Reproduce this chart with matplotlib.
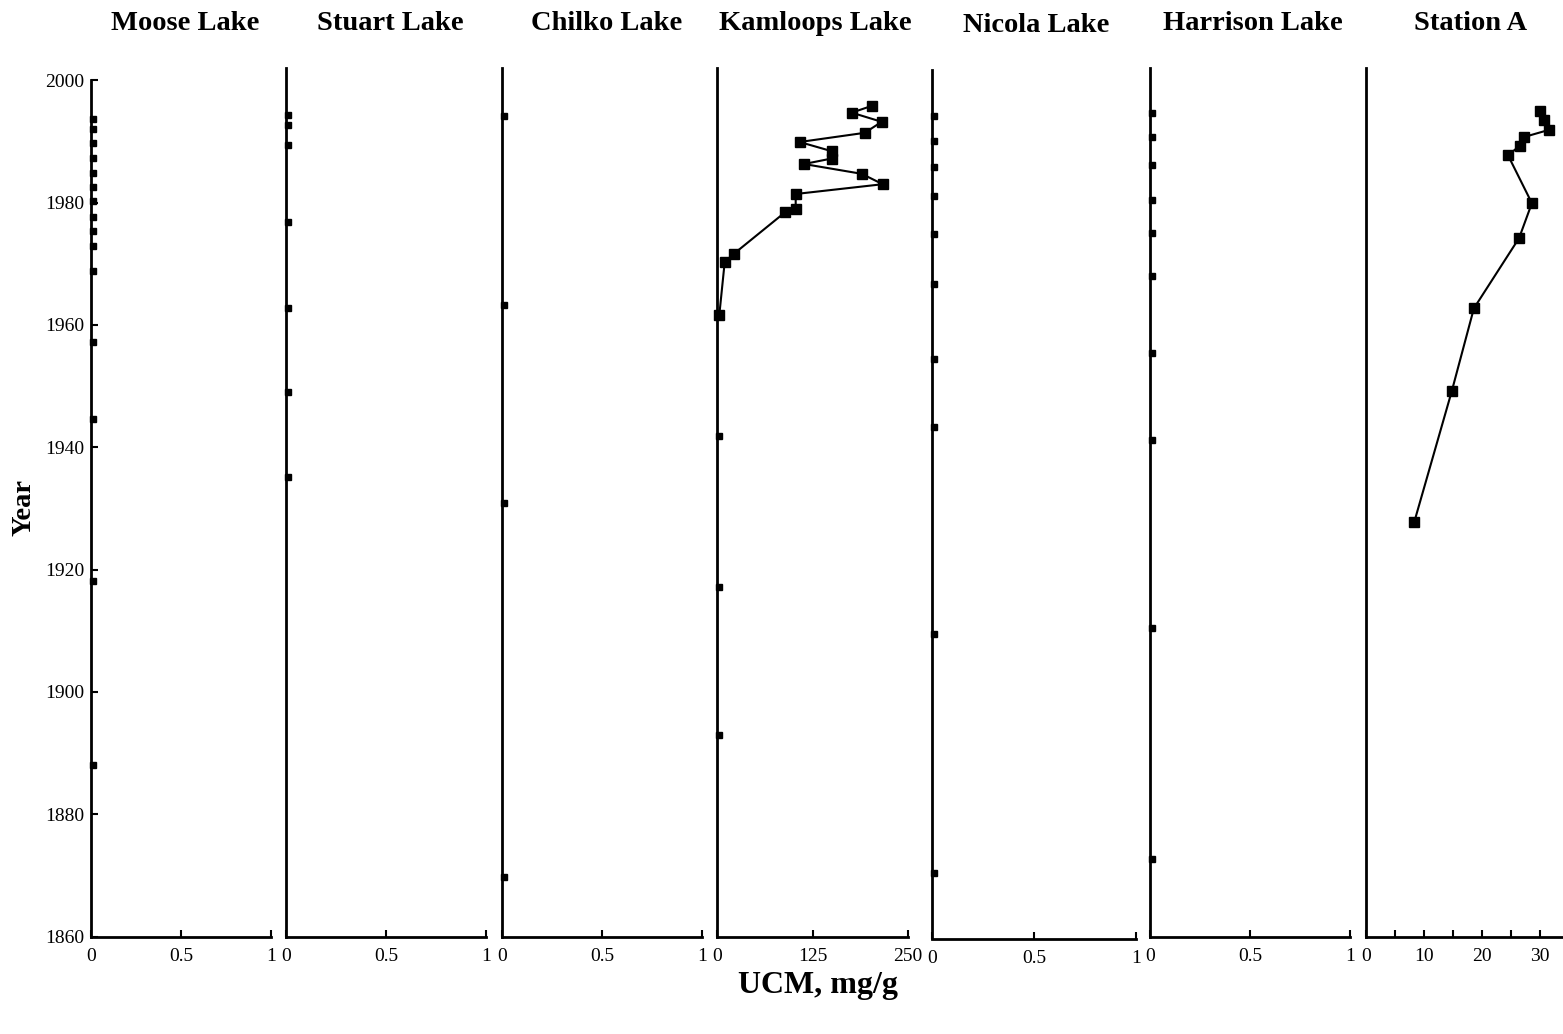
import matplotlib
matplotlib.use("Agg")
import matplotlib.pyplot as plt
from matplotlib.ticker import FixedLocator, MultipleLocator

plt.rcParams["font.family"] = ["Liberation Serif", "DejaVu Serif"]

# ---- data: UCM (mg/g) against sediment year ----
lakes = ["Moose Lake", "Stuart Lake", "Chilko Lake", "Kamloops Lake",
         "Nicola Lake", "Harrison Lake", "Station A"]

moose_year = [1993.7, 1992.0, 1989.7, 1987.3, 1984.8, 1982.5, 1980.3, 1977.6,
              1975.4, 1972.9, 1968.8, 1957.2, 1944.6, 1918.1, 1888.0]
moose_ucm = [0.01] * len(moose_year)

stuart_year = [1994.3, 1992.6, 1989.4, 1976.8, 1962.8, 1949.1, 1935.1]
stuart_ucm = [0.01] * len(stuart_year)

chilko_year = [1994.2, 1963.3, 1930.8, 1869.7]
chilko_ucm = [0.01] * len(chilko_year)

kamloops_year = [1995.8, 1994.7, 1993.2, 1991.4, 1989.9, 1988.4, 1987.2, 1986.3,
                 1984.7, 1983.0, 1981.4, 1978.9, 1978.4, 1971.6, 1970.3, 1961.6]
kamloops_ucm = [202.5, 176.3, 215.6, 193.3, 108.2, 150.1, 150.1, 113.9,
                189.4, 216.9, 103.0, 103.0, 89.0, 21.9, 10.1, 3.0]
kamloops_low_year = [1941.8, 1917.2, 1893.0]
kamloops_low_ucm = [2.5, 2.5, 2.5]

nicola_year = [1994.4, 1990.4, 1986.2, 1981.4, 1975.2, 1967.0, 1954.8, 1943.6,
               1909.8, 1870.7]
nicola_ucm = [0.01] * len(nicola_year)

harrison_year = [1994.7, 1990.7, 1986.2, 1980.4, 1975.0, 1968.0, 1955.4, 1941.1,
                 1910.4, 1872.6]
harrison_ucm = [0.01] * len(harrison_year)

stationa_year = [1995.0, 1993.5, 1991.9, 1990.7, 1989.3, 1987.7, 1979.9, 1974.2,
                 1962.7, 1949.2, 1927.7]
stationa_ucm = [30.0, 30.7, 31.6, 27.2, 26.5, 24.5, 28.6, 26.4, 18.6, 14.8, 8.3]

year_ticks = [1860, 1880, 1900, 1920, 1940, 1960, 1980, 2000]
unit_ticks = [0, 0.5, 1]
unit_labels = ["0", "0.5", "1"]
kamloops_ticks = [0, 125, 250]
stationa_ticks = [0, 10, 20, 30]

# ---- layout (pixel geometry of the figure) ----
W, H = 1563, 1034
fig = plt.figure(figsize=(W / 100, H / 100), dpi=100)


def px_rect(x0, x1, ytop, ybot):
    return [x0 / W, 1 - ybot / H, (x1 - x0) / W, (ybot - ytop) / H]


panels = [
    (91, 271, 68, 936.5),
    (286, 486, 68, 936.5),
    (502, 702, 68, 936.5),
    (717, 908, 68, 936.5),
    (932, 1136, 70, 938.5),
    (1150, 1350, 68, 936.5),
    (1366, 1569, 68, 936.5),
]
title_pos = [(185, 23), (390, 23), (607, 23), (815, 23), (1036, 25),
             (1253, 23), (1471, 23)]

axes = []
for (x0, x1, yt, yb) in panels:
    ax = fig.add_axes(px_rect(x0, x1, yt, yb))
    ax.set_ylim(1860, 2002)
    for s in ("top", "right"):
        ax.spines[s].set_visible(False)
    for s in ("left", "bottom"):
        ax.spines[s].set_linewidth(2.0)
    ax.tick_params(axis="both", direction="in", length=5, width=1.5,
                   labelsize=14, pad=8)
    ax.tick_params(axis="y", left=False, labelleft=False)
    ax.patch.set_alpha(0)
    axes.append(ax)

# unit-scaled panels
for ax in (axes[0], axes[1], axes[2], axes[4], axes[5]):
    ax.set_xlim(0, 1)
    ax.xaxis.set_major_locator(FixedLocator(unit_ticks))
    ax.set_xticklabels(unit_labels)

axes[3].set_xlim(0, 250)
axes[3].xaxis.set_major_locator(FixedLocator(kamloops_ticks))
axes[3].set_xticklabels([str(t) for t in kamloops_ticks])

axes[6].set_xlim(0, 35)
axes[6].xaxis.set_major_locator(FixedLocator(stationa_ticks))
axes[6].xaxis.set_minor_locator(MultipleLocator(5))
axes[6].set_xticklabels([str(t) for t in stationa_ticks])
axes[6].tick_params(axis="x", which="minor", direction="in", length=5, width=1.5)

# year axis on the first panel only
ax0 = axes[0]
ax0.spines["left"].set_bounds(1860, 2000)
ax0.tick_params(axis="y", left=True, labelleft=True, pad=5)
ax0.yaxis.set_major_locator(FixedLocator(year_ticks))
ax0.set_yticklabels([str(t) for t in year_ticks])

# ---- data marks ----
small = dict(marker="s", ms=5, color="black", linestyle="none", clip_on=False)
big = dict(marker="s", ms=6.5, color="black", clip_on=False)

axes[0].plot(moose_ucm, moose_year, **small)
axes[1].plot(stuart_ucm, stuart_year, **small)
axes[2].plot(chilko_ucm, chilko_year, **small)
axes[3].plot(kamloops_ucm, kamloops_year, linewidth=1.5, **big)
axes[3].plot(kamloops_low_ucm, kamloops_low_year, **small)
axes[4].plot(nicola_ucm, nicola_year, **small)
axes[5].plot(harrison_ucm, harrison_year, **small)
axes[6].plot(stationa_ucm, stationa_year, linewidth=1.5, **big)

# ---- titles and axis labels ----
for name, (tx, ty) in zip(lakes, title_pos):
    fig.text(tx / W, 1 - ty / H, name, ha="center", va="center",
             fontsize=20.5, fontweight="bold")

fig.text(24 / W, 1 - 508 / H, "Year", rotation=90, ha="center", va="center",
         fontsize=20.5, fontweight="bold")
fig.text(818 / W, 1 - 985 / H, "UCM, mg/g", ha="center", va="center",
         fontsize=23, fontweight="bold")

fig.savefig("out.png", dpi=100, facecolor="white")
